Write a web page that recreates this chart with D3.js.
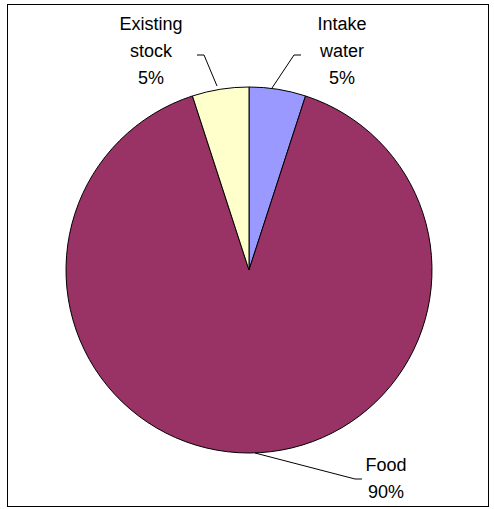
<!DOCTYPE html>
<html><head><meta charset="utf-8">
<script src="https://cdn.jsdelivr.net/npm/d3@7"></script>
<style>body{margin:0;background:#fff}text{font-family:"Liberation Sans",Arial,sans-serif;font-size:18px}</style>
</head><body>
<script>
var categories = ["Intake water", "Food", "Existing stock"];
var values = [5, 90, 5];
var labels = [["Intake", "water", "5%"], ["Food", "90%"], ["Existing", "stock", "5%"]];
var colors = ["#9999FF", "#993366", "#FFFFCC"];

var width = 494, height = 509;
var cx = 249, cy = 270, r = 183;
var svg = d3.select("body").append("svg").attr("width", width).attr("height", height);
svg.append("rect").attr("x", 7.5).attr("y", 4.5).attr("width", 481).attr("height", 502)
    .attr("fill", "#fff").attr("stroke", "#000");

var data = d3.pie().sort(null).value(function (d) { return d; })(values);
var arc = d3.arc().innerRadius(0).outerRadius(r);
var g = svg.append("g").attr("transform", "translate(" + cx + "," + cy + ")");
g.selectAll("path").data(data).enter().append("path")
    .attr("d", arc)
    .attr("fill", function (d, i) { return colors[i]; })
    .attr("stroke", "#000").attr("stroke-width", 1);

// label anchor positions (last line baseline) relative to centre
var labelPos = [[93, -186], [137, 228], [-98, -186]];
var leaders = [[[52, -215], [45, -215], [23, -182]],
               [[113, 209], [106, 209], [6, 183]],
               [[-52, -215], [-45, -215], [-32, -184]]];
data.forEach(function (d, i) {
    var p = labelPos[i];
    var t = g.append("text").attr("text-anchor", "middle");
    var n = labels[i].length;
    labels[i].forEach(function (s, j) {
        t.append("tspan").attr("x", p[0]).attr("y", p[1] - (n - 1 - j) * 27).text(s);
    });
    g.append("polyline")
        .attr("points", leaders[i].map(function (q) { return q.join(","); }).join(" "))
        .attr("fill", "none").attr("stroke", "#000");
});
</script>
</body></html>
